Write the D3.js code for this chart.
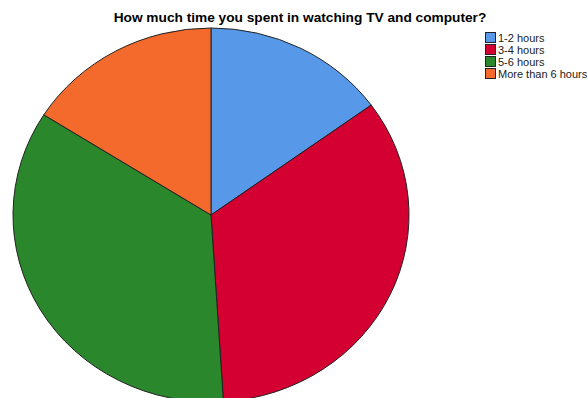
<!DOCTYPE html>
<html>
<head>
<meta charset="utf-8">
<script src="https://cdn.jsdelivr.net/npm/d3@7"></script>
<style>
  body { margin: 0; background: #fff; }
  svg { display: block; }
</style>
</head>
<body>
<div id="viz"></div>
<script>
// chart data
const categories = ["1-2 hours", "3-4 hours", "5-6 hours", "More than 6 hours"]
const counts = [15, 34, 35, 16]
const colors = ["#5799e8", "#d50032", "#2b872b", "#f46a2c"]

const width = 587
const height = 398

const svg = d3.select("#viz").append("svg")
    .attr("width", width)
    .attr("height", height)

// title
svg.append("text")
    .attr("x", 300)
    .attr("y", 22)
    .attr("text-anchor", "middle")
    .style("font-family", "Arial, 'Liberation Sans', sans-serif")
    .style("font-size", "13.7px")
    .style("font-weight", "bold")
    .text("How much time you spent in watching TV and computer?")

// pie, slightly squashed vertically like the original
const rx = 198, ry = 187
const pie = d3.pie().sort(null).value(d => d)
const arc = d3.arc().innerRadius(0).outerRadius(rx)

const g = svg.append("g")
    .attr("transform", `translate(211,215) scale(1,${ry / rx})`)

g.selectAll("path")
    .data(pie(counts))
    .enter()
    .append("path")
    .attr("d", arc)
    .attr("fill", (d, i) => colors[i])
    .attr("stroke", "#222")
    .attr("stroke-width", 1)
    .attr("vector-effect", "non-scaling-stroke")

// legend
const legend = svg.append("g").attr("transform", "translate(485,32)")
const rows = legend.selectAll("g")
    .data(categories)
    .enter()
    .append("g")
    .attr("transform", (d, i) => `translate(0,${i * 12})`)

rows.append("rect")
    .attr("x", 0.5).attr("y", 0.5)
    .attr("width", 10).attr("height", 10)
    .attr("fill", (d, i) => colors[i])
    .attr("stroke", "#222")

rows.append("text")
    .attr("x", 13)
    .attr("y", 9.5)
    .style("font-family", "Arial, 'Liberation Sans', sans-serif")
    .style("font-size", "11px")
    .attr("fill", "#222")
    .text(d => d)
</script>
</body>
</html>
